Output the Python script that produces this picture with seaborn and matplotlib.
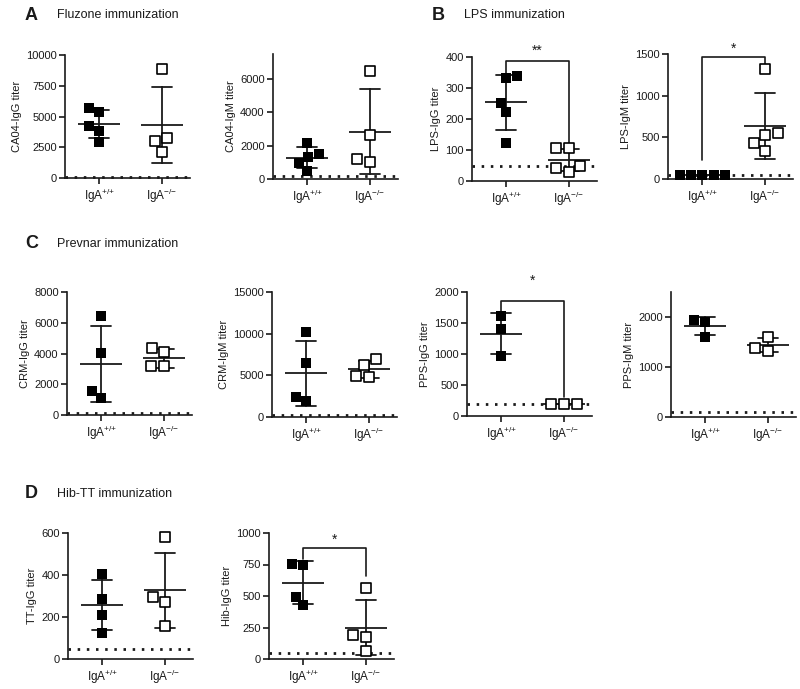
import matplotlib
matplotlib.use('Agg')
import matplotlib.pyplot as plt
import seaborn as sns
import pandas as pd
import numpy as np

# ---- data (titers) ----
groups = [r'IgA$^{{+}/{+}}$', r'IgA$^{{-}/{-}}$']

ca04_igg_wt = [5400, 5700, 4200, 3800, 2900]
ca04_igg_ko = [8900, 3250, 2150, 3000]
ca04_igm_wt = [2180, 1300, 1500, 940, 500]
ca04_igm_ko = [6500, 2640, 1000, 1180]

lps_igg_wt = [331, 340, 253, 223, 124]
lps_igg_ko = [105, 105, 50, 43, 30]
lps_igm_wt = [50, 50, 50, 50, 50]
lps_igm_ko = [1324, 550, 533, 429, 341]

crm_igg_wt = [6450, 4050, 1120, 1560]
crm_igg_ko = [4390, 4070, 3180, 3180]
crm_igm_wt = [10170, 6430, 1890, 2410]
crm_igm_ko = [6230, 6920, 4830, 4950]

pps_igg_wt = [1610, 1410, 960]
pps_igg_ko = [200, 200, 200]
pps_igm_wt = [1610, 1950, 1910]
pps_igm_ko = [1610, 1330, 1380]

tt_igg_wt = [404, 287, 210, 123]
tt_igg_ko = [581, 295, 271, 158]
hib_igg_wt = [753, 748, 496, 430]
hib_igg_ko = [562, 191, 172, 66]

W, H = 800, 689
INK = '#1a1a1a'

sns.set_style('ticks')
plt.rcParams['font.family'] = ['Liberation Sans', 'DejaVu Sans']
plt.rcParams['mathtext.fontset'] = 'custom'
plt.rcParams['mathtext.rm'] = 'Liberation Sans'
plt.rcParams['mathtext.default'] = 'regular'

fig = plt.figure(figsize=(W / 100, H / 100), dpi=100)


def panel(left, y0, top, ylabel, wt, ko, ymax, yticks, lod, bracket=None):
    ax = fig.add_axes([left / W, 1 - y0 / H, 125 / W, (y0 - top) / H])
    df = pd.DataFrame({
        'group': [groups[0]] * len(wt) + [groups[1]] * len(ko),
        'titer': wt + ko,
    })
    ax.axhline(lod, color=INK, lw=2, ls=(0, (0.9, 2.4)), zorder=0)
    sns.swarmplot(data=df[df['group'] == groups[0]], x='group', y='titer', order=groups,
                  marker='s', size=7.8, color='black', ax=ax)
    sns.swarmplot(data=df[df['group'] == groups[1]], x='group', y='titer', order=groups,
                  marker='s', size=7.8, color='white', edgecolor='black', linewidth=1.2, ax=ax)
    sns.pointplot(data=df, x='group', y='titer', order=groups, errorbar='sd', capsize=0.32,
                  marker='_', markersize=30, markeredgewidth=1.3, linestyle='none',
                  color=INK, err_kws={'linewidth': 1.3}, ax=ax)
    for art in ax.collections + ax.lines:
        art.set_clip_on(False)

    ax.set_xlim(-0.55, 1.45)
    ax.set_ylim(0, ymax)
    ax.set_yticks(yticks)
    ax.set_xlabel('')
    ax.set_ylabel(ylabel, fontsize=8, color=INK, labelpad=3)
    sns.despine(ax=ax)
    for s in ['left', 'bottom']:
        ax.spines[s].set_linewidth(1.2)
        ax.spines[s].set_color(INK)
    ax.tick_params(axis='both', direction='out', length=4, width=1.2, color=INK, pad=2)
    ax.tick_params(axis='y', labelsize=8, labelcolor=INK)
    ax.tick_params(axis='x', labelsize=8.5, labelcolor=INK)

    if bracket is not None:
        y_left, y_top, y_right, stars, y_star = bracket
        ax.plot([0, 0, 1, 1], [y_left, y_top, y_top, y_right], color=INK, lw=1.2, clip_on=False)
        ax.text(0.5, y_star, stars, ha='center', va='center', fontsize=10, color=INK)
    return ax


# row A / B
panel(65, 178, 55, 'CA04-IgG titer', ca04_igg_wt, ca04_igg_ko, 10000, [0, 2500, 5000, 7500, 10000], 100)
panel(273, 179, 54, 'CA04-IgM titer', ca04_igm_wt, ca04_igm_ko, 7500, [0, 2000, 4000, 6000], 200)
panel(472, 181, 57, 'LPS-IgG titer', lps_igg_wt, lps_igg_ko, 400, [0, 100, 200, 300, 400], 50,
      bracket=(345, 386, 90, '**', 420))
panel(668, 179, 54, 'LPS-IgM titer', lps_igm_wt, lps_igm_ko, 1500, [0, 500, 1000, 1500], 50,
      bracket=(229, 1464, 1372, '*', 1565))

# row C
panel(67, 415, 292, 'CRM-IgG titer', crm_igg_wt, crm_igg_ko, 8000, [0, 2000, 4000, 6000, 8000], 150)
panel(272, 417, 292, 'CRM-IgM titer', crm_igm_wt, crm_igm_ko, 15000, [0, 5000, 10000, 15000], 200)
panel(467, 416, 292, 'PPS-IgG titer', pps_igg_wt, pps_igg_ko, 2000, [0, 500, 1000, 1500, 2000], 200,
      bracket=(1680, 1855, 310, '*', 2180))
panel(671, 417, 292, 'PPS-IgM titer', pps_igm_wt, pps_igm_ko, 2500, [0, 1000, 2000], 100)

# row D
panel(68, 659, 533, 'TT-IgG titer', tt_igg_wt, tt_igg_ko, 600, [0, 200, 400, 600], 50)
panel(269, 659, 533, 'Hib-IgG titer', hib_igg_wt, hib_igg_ko, 1000, [0, 250, 500, 750, 1000], 50,
      bracket=(790, 881, 655, '*', 948))

# panel headings
headings = [(25, 15, 'A', 'Fluzone immunization'),
            (432, 15, 'B', 'LPS immunization'),
            (25, 244, 'C', 'Prevnar immunization'),
            (25, 494, 'D', 'Hib-TT immunization')]
for x, y, letter, title in headings:
    fig.text(x / W, 1 - y / H, letter, fontsize=13, fontweight='bold', color=INK, va='center', ha='left')
    fig.text((x + 32) / W, 1 - y / H, title, fontsize=9, color=INK, va='center', ha='left')

plt.savefig('out.png', dpi=100)
plt.close()
